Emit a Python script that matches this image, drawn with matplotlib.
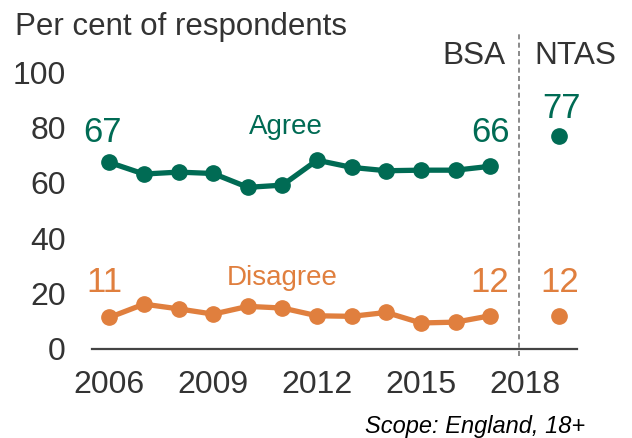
import matplotlib
matplotlib.use("Agg")
import matplotlib.pyplot as plt

plt.rcParams['font.family'] = ['Liberation Sans', 'DejaVu Sans']

years = [2006, 2007, 2008, 2009, 2010, 2011, 2012, 2013, 2014, 2015, 2016, 2017]
agree = [67.4, 63.2, 63.9, 63.4, 58.4, 59.2, 68.2, 65.6, 64.4, 64.6, 64.6, 66]
disagree = [11.4, 16.2, 14.5, 12.6, 15.4, 14.8, 12.0, 11.8, 13.2, 9.4, 9.7, 12]
ntas_year = 2019
ntas_agree = 77
ntas_disagree = 12
yticks = [0, 20, 40, 60, 80, 100]
xticks = [2006, 2009, 2012, 2015, 2018]

green = '#006b54'
orange = '#e07f3e'
grey = '#333333'

fig = plt.figure(figsize=(6.32, 4.38), dpi=100)
ax = fig.add_axes([0.1456, 0.2032, 0.767, 0.632])

ax.plot(years, agree, color=green, lw=3.8, marker='o', ms=11, solid_capstyle='round')
ax.plot(years, disagree, color=orange, lw=3.8, marker='o', ms=11, solid_capstyle='round')
ax.plot([ntas_year], [ntas_agree], 'o', color=green, ms=11)
ax.plot([ntas_year], [ntas_disagree], 'o', color=orange, ms=11)

# end-point labels
big = 25
ax.text(years[0] - 0.2, 74.9, f'{agree[0]:.0f}', color=green, fontsize=big, ha='center', va='baseline')
ax.text(years[-1], 74.9, f'{agree[-1]:.0f}', color=green, fontsize=big, ha='center', va='baseline')
ax.text(ntas_year + 0.05, 83.6, f'{ntas_agree}', color=green, fontsize=big, ha='center', va='baseline')
ax.text(years[0] - 0.15, 20.6, f'{disagree[0]:.0f}', color=orange, fontsize=big, ha='center', va='baseline')
ax.text(years[-1], 20.6, f'{disagree[-1]:.0f}', color=orange, fontsize=big, ha='center', va='baseline')
ax.text(ntas_year, 20.6, f'{ntas_disagree}', color=orange, fontsize=big, ha='center', va='baseline')
ax.text(2011.1, 77.5, 'Agree', color=green, fontsize=20, ha='center', va='baseline')
ax.text(2011.0, 23.2, 'Disagree', color=orange, fontsize=20, ha='center', va='baseline')

# survey break
ax.axvline(2017.84, ymin=-0.025, ymax=1.14, color='#777777', lw=1.2, ls=(0, (3, 2)), clip_on=False)
ax.text(2017.44, 102.9, 'BSA', color=grey, fontsize=22.7, ha='right', va='baseline')
ax.text(2018.28, 102.9, 'NTAS', color=grey, fontsize=22.7, ha='left', va='baseline')

ax.set_xlim(2005.5, 2019.5)
ax.set_ylim(0, 100)
ax.set_xticks(xticks)
ax.set_yticks(yticks)
ax.tick_params(length=0, labelsize=23, labelcolor=grey)
ax.tick_params(axis='x', pad=15)
ax.tick_params(axis='y', pad=19)
for s in ['top', 'right', 'left']:
    ax.spines[s].set_visible(False)
ax.spines['bottom'].set_color('#444444')
ax.spines['bottom'].set_linewidth(1.6)

fig.text(15 / 632, 1 - 35 / 438, 'Per cent of respondents', color=grey, fontsize=22.5, ha='left', va='baseline')
fig.text(585 / 632, 1 - 433 / 438, 'Scope: England, 18+', color='black', fontsize=17,
         style='italic', ha='right', va='baseline')

fig.savefig('out.png', dpi=100)
